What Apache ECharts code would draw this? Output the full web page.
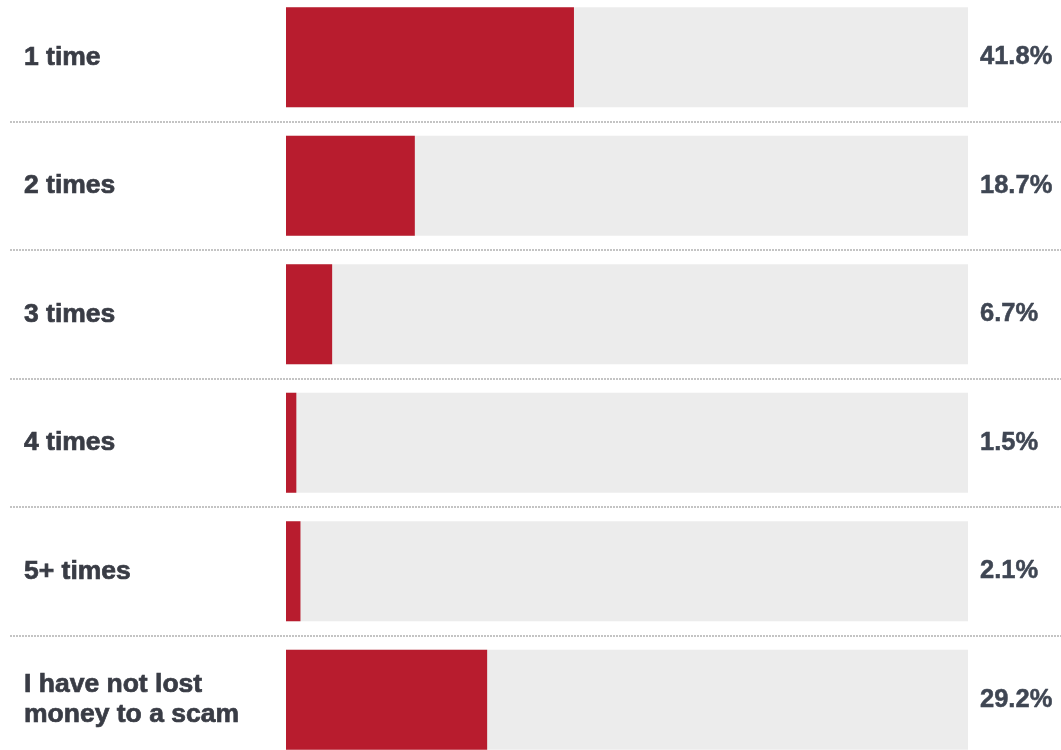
<!DOCTYPE html>
<html>
<head>
<meta charset="utf-8">
<style>
  html, body { margin: 0; padding: 0; background: #ffffff; }
  #chart { width: 1061px; height: 750px; }
</style>
<script src="https://cdn.jsdelivr.net/npm/echarts@6/dist/echarts.min.js"></script>
</head>
<body>
<div id="chart"></div>
<script>
// Number of times respondents lost money to a scam (share of respondents, %)
const categories = ['1 time', '2 times', '3 times', '4 times', '5+ times', 'I have not lost\nmoney to a scam'];
const shares = [41.8, 18.7, 6.7, 1.5, 2.1, 29.2];
const shareLabels = shares.map(v => v.toFixed(1) + '%');

const textColor = '#393c45';
const valueColor = '#3f4653';
const labelFont = '"Liberation Sans", Arial, sans-serif';

const chart = echarts.init(document.getElementById('chart'), null, { renderer: 'canvas' });

chart.setOption({
  animation: false,
  backgroundColor: '#ffffff',
  grid: [
    // full-width grid that only carries the dotted row separators
    { left: 10, right: 0, top: -7, bottom: -14, outerBoundsMode: 'none' },
    // grid holding the bars
    { left: 286, right: 93, top: -7, bottom: -14, outerBoundsMode: 'none' }
  ],
  xAxis: [
    { gridIndex: 0, type: 'value', min: 0, max: 100, show: false },
    { gridIndex: 1, type: 'value', min: 0, max: 99, show: false }
  ],
  yAxis: [
    {
      gridIndex: 0, type: 'category', data: categories, inverse: true,
      axisLine: { show: false }, axisTick: { show: false }, axisLabel: { show: false },
      splitLine: { show: true, lineStyle: { color: '#c4c4c4', width: 2, type: [2, 1] } }
    },
    {
      gridIndex: 1, type: 'category', data: categories, inverse: true, position: 'left',
      axisLine: { show: false }, axisTick: { show: false }, splitLine: { show: false },
      axisLabel: {
        align: 'left', margin: 262, color: textColor,
        textBorderColor: textColor, textBorderWidth: 0.7,
        fontFamily: labelFont, fontWeight: 'bold', fontSize: 26.5, lineHeight: 30
      }
    },
    {
      gridIndex: 1, type: 'category', data: shareLabels, inverse: true, position: 'right',
      axisLine: { show: false }, axisTick: { show: false }, splitLine: { show: false },
      axisLabel: {
        align: 'left', margin: 12, color: valueColor,
        textBorderColor: valueColor, textBorderWidth: 0.5,
        fontFamily: labelFont, fontWeight: 'bold', fontSize: 25.5
      }
    }
  ],
  series: [
    {
      type: 'bar',
      xAxisIndex: 1,
      yAxisIndex: 1,
      data: shares,
      barWidth: 100,
      itemStyle: { color: '#b81c2e' },
      showBackground: true,
      backgroundStyle: { color: '#ececec' }
    }
  ]
});
</script>
</body>
</html>
